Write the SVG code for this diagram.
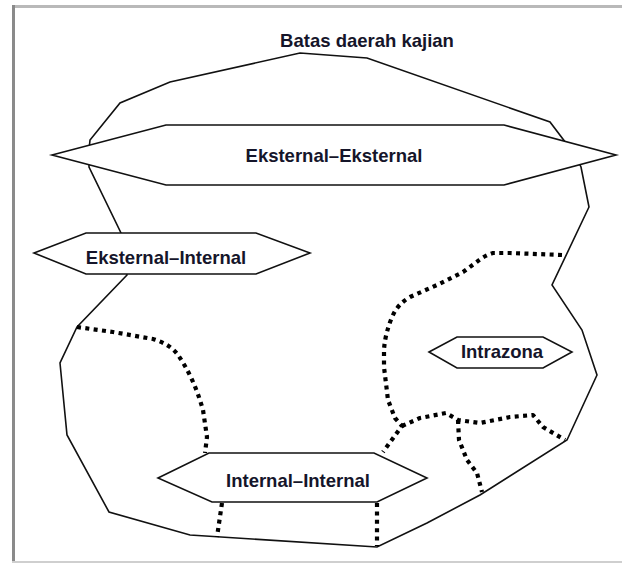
<svg xmlns="http://www.w3.org/2000/svg" width="622" height="563" viewBox="0 0 622 563">
<style>
.frame{fill:#b9b9b9}
.bound{fill:none;stroke:#111;stroke-width:1.6;stroke-linejoin:miter}
.dot{fill:none;stroke:#000;stroke-width:4.2;stroke-dasharray:4 4.4;stroke-linecap:butt;stroke-linejoin:round}
.hex{fill:#fff;stroke:#111;stroke-width:1.6}
.lbl{font-family:"Liberation Sans",Arial,sans-serif;font-weight:bold;font-size:18.5px;fill:#15152a;text-anchor:middle}
</style>
<rect width="622" height="563" fill="#fff"/>
<g id="frame">
<rect class="frame" x="12" y="5" width="610" height="3"/>
<rect x="12" y="5" width="3" height="558" fill="#8a8a8a"/>
<rect x="12" y="561" width="610" height="2" fill="#cfcfcf"/>
</g>
<g id="title"><text class="lbl" x="367" y="47">Batas daerah kajian</text></g>
<g id="connectors">
<path id="boundary" class="bound" d="M300,53 L367,58 L550,122 L575,155 L581,167 L589,207 L552,285 L582,330 L597,375 L567,440 L480,495 L427,523 L377,547 L190,535 L109,512 L67,435 L60,363 L77,327 L127,275 L124,254 L121,233 L89,167 L89,150 L90,140 L120,103 L170,82 Z"/>
<path class="dot" d="M77,327 L113,332 L153,339 Q170,344 178,355 Q194,378 203,410 L207,437 L205,453"/>
<path class="dot" d="M562,255 L510,253 L493,253 Q484,256 478,261 L463,272 L437,285 L410,297 Q398,304 393,315 Q385,333 384,350 L384,367 L388,400 L395,418 L402,426 L383,452"/>
<path class="dot" d="M402,426 L420,418 L446,413 L458,420 L480,423 L510,417 L533,415 L543,427 L565,440"/>
<path class="dot" d="M458,420 L459,440 L467,460 L477,473 L482,492"/>
<path class="dot" d="M222,503 L217,537"/>
<path class="dot" d="M377,503 L377,546"/>
</g>
<g id="ee">
<polygon class="hex" points="52,155 166,125 504,125 616,155 504,185 166,185"/>
<text class="lbl" x="334" y="162">Eksternal–Eksternal</text>
</g>
<g id="ei">
<polygon class="hex" points="34,253 86,233 256,233 310,253 256,274 86,274"/>
<text class="lbl" x="166" y="264">Eksternal–Internal</text>
</g>
<g id="intrazona">
<polygon class="hex" points="429,352 457,337 543,337 572,352 543,368 457,368"/>
<text class="lbl" x="502" y="358">Intrazona</text>
</g>
<g id="ii">
<polygon class="hex" points="158,478 209,453 374,453 427,478 377,502 212,502"/>
<text class="lbl" x="298" y="487">Internal–Internal</text>
</g>
</svg>
